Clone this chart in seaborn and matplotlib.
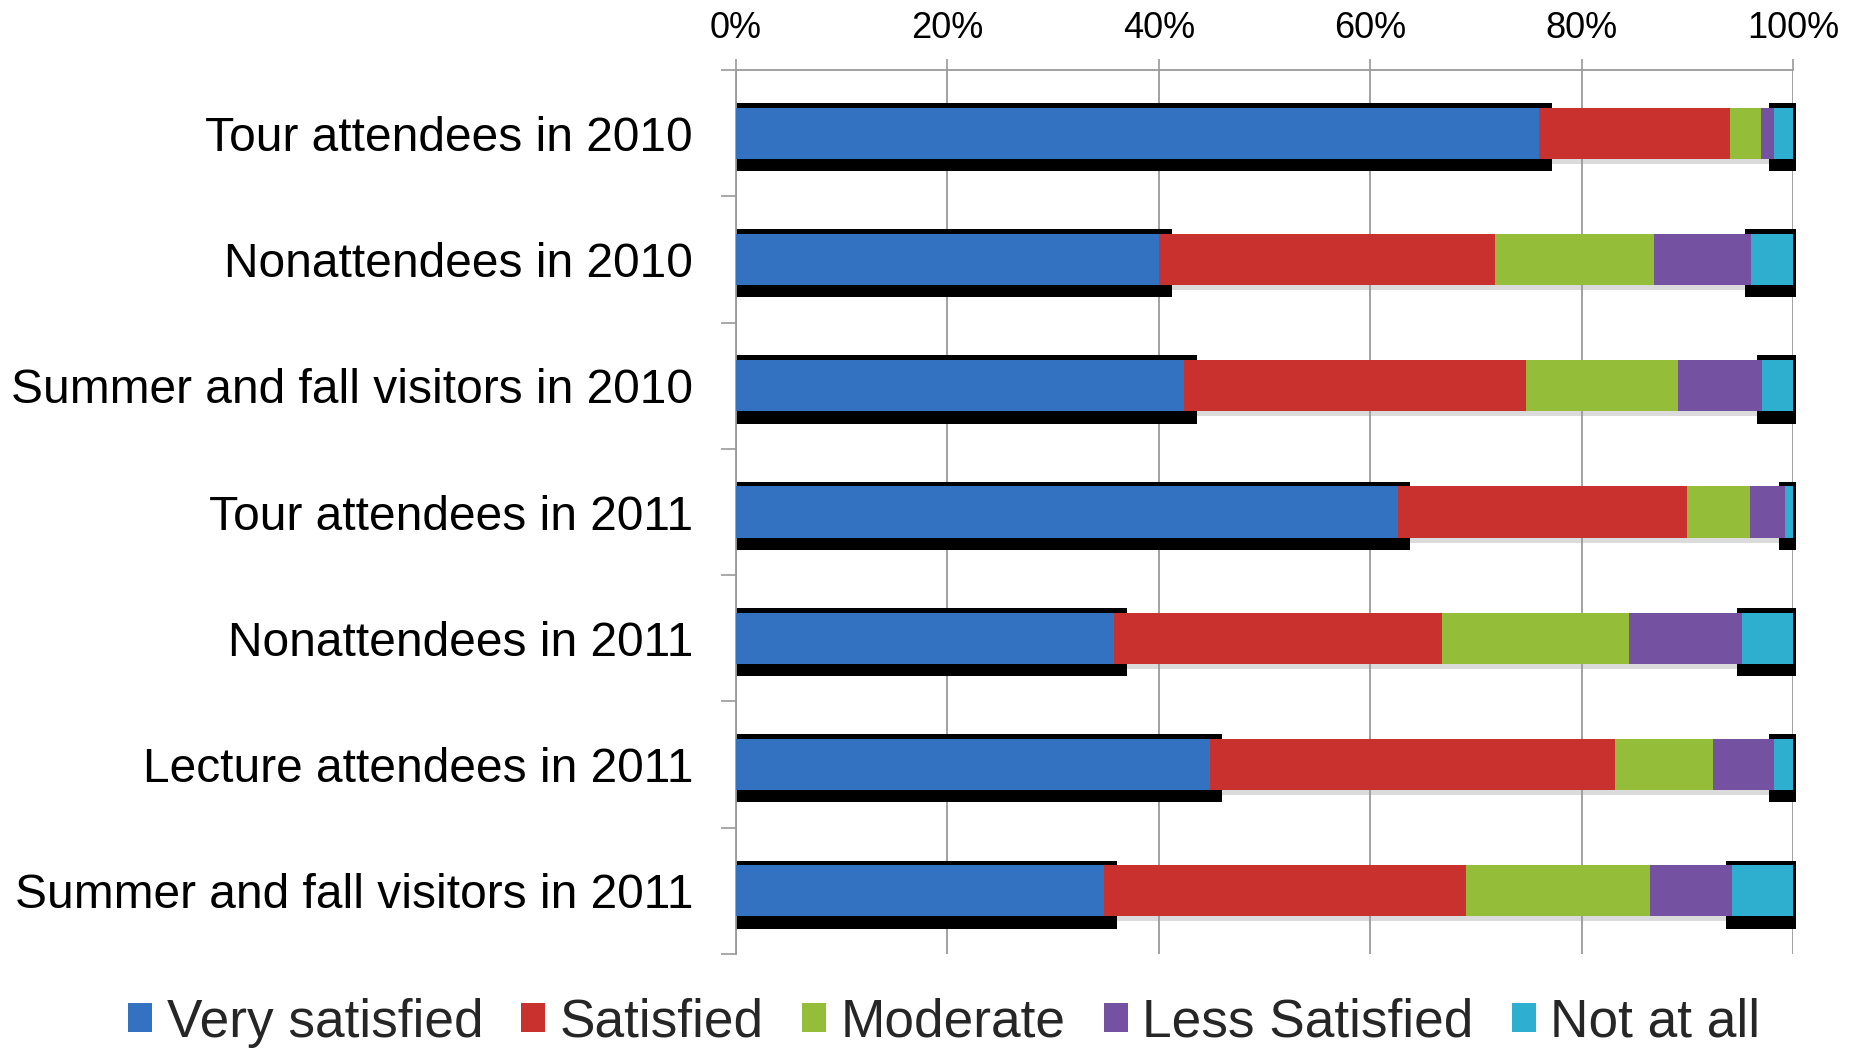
import matplotlib
matplotlib.use("Agg")
import matplotlib.pyplot as plt
from matplotlib.patches import Patch
import seaborn as sns
import numpy as np
import pandas as pd

categories = ["Tour attendees in 2010", "Nonattendees in 2010",
              "Summer and fall visitors in 2010", "Tour attendees in 2011",
              "Nonattendees in 2011", "Lecture attendees in 2011",
              "Summer and fall visitors in 2011"]
series_names = ["Very satisfied", "Satisfied", "Moderate", "Less Satisfied", "Not at all"]
very_satisfied = [76.0, 40.0, 42.4, 62.6, 35.8, 44.8, 34.8]
satisfied      = [18.0, 31.8, 32.3, 27.4, 31.0, 38.4, 34.3]
moderate       = [3.0, 15.0, 14.4, 5.9, 17.7, 9.2, 17.4]
less_satisfied = [1.2, 9.2, 8.0, 3.3, 10.7, 5.8, 7.7]
not_at_all     = [1.8, 4.0, 2.9, 0.8, 4.8, 1.8, 5.8]
xtick_values = [0, 20, 40, 60, 80, 100]
xtick_labels = ["0%", "20%", "40%", "60%", "80%", "100%"]

colors = ["#3272C0", "#C8312E", "#94BE3A", "#7451A1", "#2EAFD0"]

sns.set_theme(style="white")
plt.rcParams['font.family'] = ['Liberation Sans', 'DejaVu Sans']

fig = plt.figure(figsize=(18.55, 10.48), dpi=100)
ax = fig.add_axes([0.3968, 0.0897, 0.9666 - 0.3968, 0.9332 - 0.0897])

series = [very_satisfied, satisfied, moderate, less_satisfied, not_at_all]
cum = np.cumsum(np.array(series), axis=0)
df = pd.DataFrame({"category": categories})
for i, name in enumerate(series_names):
    df[name] = cum[i]

ypos = np.arange(len(categories))
# soft shadow under the whole bar
ax.barh(ypos + 0.04, cum[4] - 0.2, height=0.404, left=0.2,
        color="#9a9a9a", alpha=0.35, zorder=1.9, linewidth=0)
# black shadow frames behind first and last segments
ax.barh(ypos + 0.03, np.array(very_satisfied) + 1.2, height=0.54,
        left=0, color="black", zorder=2, linewidth=0)
last_left = cum[3] - 0.5
ax.barh(ypos + 0.03, 100.3 - last_left, height=0.54, left=last_left,
        color="black", zorder=2, linewidth=0, clip_on=False)

for i in range(len(series_names) - 1, -1, -1):
    sns.barplot(data=df, x=series_names[i], y="category", orient="h",
                color=colors[i], width=0.404, saturation=1, ax=ax,
                zorder=3, linewidth=0)

ax.set_xlim(0, 100)
ax.set_ylim(len(categories) - 0.5, -0.5)
ax.xaxis.tick_top()
ax.set_xticks(xtick_values)
ax.set_xticklabels(xtick_labels, fontsize=26)
ax.tick_params(axis="x", which="major", direction="out", length=8, width=1.2,
               color="#9a9a9a", pad=9, labelcolor="black", top=True, bottom=False)
ax.set_xlabel("")
ax.set_ylabel("")
ax.set_yticks(ypos)
ax.set_yticklabels(categories, fontsize=34.5)
ax.set_yticks(np.arange(-0.5, len(categories), 1.0), minor=True)
ax.tick_params(axis="y", which="major", length=0, pad=31, labelcolor="black", left=True)
ax.tick_params(axis="y", which="minor", direction="out", length=11, width=1.2,
               color="#9a9a9a", left=True)
ax.grid(axis="x", color="#9a9a9a", linewidth=1.3, zorder=0)
ax.grid(axis="y", visible=False)
ax.set_axisbelow(True)
for s in ["right", "bottom"]:
    ax.spines[s].set_visible(False)
for s in ["left", "top"]:
    ax.spines[s].set_visible(True)
    ax.spines[s].set_color("#9a9a9a")
    ax.spines[s].set_linewidth(1.3)

handles = [Patch(facecolor=c, edgecolor="none") for c in colors]
fig.legend(handles, series_names, loc="lower center", bbox_to_anchor=(0.509, -0.02),
           ncol=5, frameon=False, fontsize=38.3, handlelength=0.45, handleheight=0.45,
           handletextpad=0.27, columnspacing=0.72, borderaxespad=0)

fig.savefig("out.png", dpi=100, facecolor="white")
